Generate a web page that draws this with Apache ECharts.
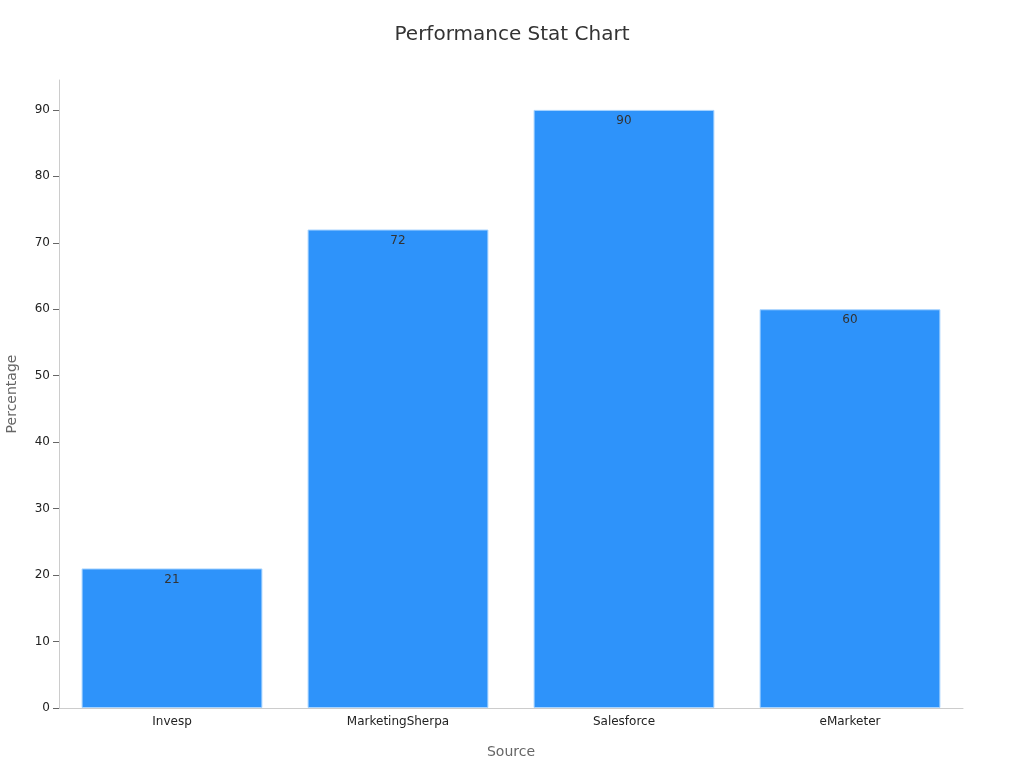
<!DOCTYPE html>
<html>
<head>
<meta charset="utf-8">
<script src="https://cdn.jsdelivr.net/npm/echarts@6/dist/echarts.min.js"></script>
<style>html,body{margin:0;padding:0;background:#fff}#c{width:1024px;height:768px}</style>
</head>
<body>
<div id="c"></div>
<script>
const categories = ['Invesp', 'MarketingSherpa', 'Salesforce', 'eMarketer'];
const values = [21, 72, 90, 60];
const yTicks = [0, 10, 20, 30, 40, 50, 60, 70, 80, 90];
const chart = echarts.init(document.getElementById('c'));
chart.setOption({
  animation: false,
  textStyle: { fontFamily: 'DejaVu Sans' },
  title: {
    text: 'Performance Stat Chart', left: 'center', top: 20,
    textStyle: { fontSize: 20, fontWeight: 'normal', color: '#333', fontFamily: 'DejaVu Sans' }
  },
  grid: { left: 59, right: 61, top: 80, bottom: 60, containLabel: false, outerBoundsMode: 'none' },
  xAxis: {
    type: 'category', data: categories,
    name: 'Source', nameLocation: 'middle', nameGap: 37,
    nameTextStyle: { fontSize: 14, color: '#666' },
    axisLine: { lineStyle: { color: '#ccc' } },
    axisTick: { alignWithLabel: true, length: 6, lineStyle: { color: '#666' } },
    axisLabel: { color: '#222', fontSize: 12 }
  },
  yAxis: {
    type: 'value', min: 0, max: 94.5,
    name: 'Percentage', nameLocation: 'middle', nameGap: 40,
    nameTextStyle: { fontSize: 14, color: '#666' },
    axisLine: { show: true, lineStyle: { color: '#ccc' } },
    axisTick: { show: true, length: 6, customValues: yTicks, lineStyle: { color: '#666' } },
    axisLabel: { color: '#222', fontSize: 12, customValues: yTicks, margin: 9 },
    splitLine: { show: false }
  },
  series: [{
    type: 'bar', data: values, barCategoryGap: '20%',
    itemStyle: { color: '#2e93fa', borderColor: '#a8d4ff', borderWidth: 1 },
    label: { show: true, position: 'insideTop', color: '#333', fontSize: 12 }
  }]
});
</script>
</body>
</html>
